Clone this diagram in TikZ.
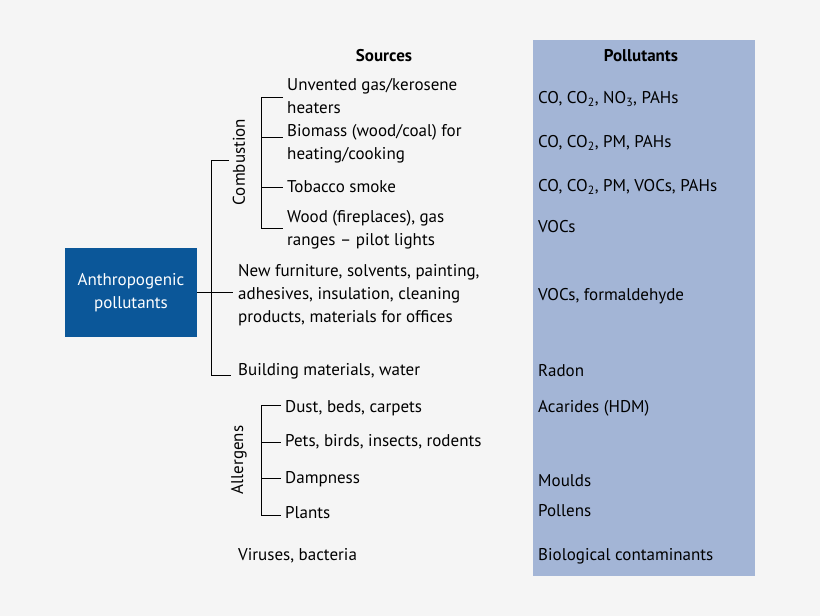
\documentclass[tikz,border=0pt]{standalone}
\usepackage{fontspec}
\setmainfont{PT Sans}
\begin{document}
\begin{tikzpicture}[x=1pt,y=-1pt,
  txt/.style={anchor=west,align=left,font=\fontsize{17}{23}\selectfont,inner sep=0pt},
  hd/.style={font=\fontsize{17}{20}\selectfont\bfseries,inner sep=0pt},
  ln/.style={draw=black,line width=1pt}]
\definecolor{bg}{HTML}{F5F5F5}
\definecolor{panel}{HTML}{A3B5D6}
\definecolor{boxc}{HTML}{0B5799}
\fill[bg] (0,0) rectangle (820,616);
\useasboundingbox (0,0) rectangle (820,616);
\fill[panel] (533,40) rectangle (755,576);
\node[hd] (hs) at (384,56) {Sources};
\node[hd] (hp) at (641,56) {Pollutants};
\node[fill=boxc,text=white,minimum width=132pt,minimum height=89pt,align=center,font=\fontsize{17}{23}\selectfont,inner sep=0pt] (anth) at (131,292.5) {Anthropogenic\\pollutants};
% main bracket
\coordinate (m1) at (211,160); \coordinate (m2) at (211,375);
\draw[ln] (229,160) -- (m1) -- (m2) -- (231,375);
\draw[ln] (anth.east) -- (233,292.5);
% combustion
\draw[ln] (283,97) -- (261,97) -- (261,228) -- (283,228);
\draw[ln] (261,137) -- (283,137);
\draw[ln] (261,187) -- (283,187);
\node[rotate=90,font=\fontsize{17}{20}\selectfont,inner sep=0pt] (comb) at (239,162) {Combustion};
% allergens
\draw[ln] (281,405) -- (261,405) -- (261,515) -- (281,515);
\draw[ln] (261,442) -- (281,442);
\draw[ln] (261,478) -- (281,478);
\node[rotate=90,font=\fontsize{17}{20}\selectfont,inner sep=0pt] (all) at (239,460) {Allergens};
% sources
\node[txt] (s1) at (287,96) {Unvented gas/kerosene\\heaters};
\node[txt] (s2) at (287,144) {Biomass (wood/coal) for\\heating/cooking};
\node[txt] (s3) at (287,187) {Tobacco smoke};
\node[txt] (s4) at (287,230) {Wood (fireplaces), gas\\ranges -- pilot lights};
\node[txt] (s5) at (238,295) {New furniture, solvents, painting,\\adhesives, insulation, cleaning\\products, materials for offices};
\node[txt] (s6) at (238,371) {Building materials, water};
\node[txt] (s7) at (285,408) {Dust, beds, carpets};
\node[txt] (s8) at (285,442) {Pets, birds, insects, rodents};
\node[txt] (s9) at (285,479) {Dampness};
\node[txt] (s10) at (285,513) {Plants};
\node[txt] (s11) at (238,556) {Viruses, bacteria};
% pollutants
\node[txt] (p1) at (538,99) {CO, CO\textsubscript{2}, NO\textsubscript{3}, PAHs};
\node[txt] (p2) at (538,143) {CO, CO\textsubscript{2}, PM, PAHs};
\node[txt] (p3) at (538,187) {CO, CO\textsubscript{2}, PM, VOCs, PAHs};
\node[txt] (p4) at (538,227) {VOCs};
\node[txt] (p5) at (538,296) {VOCs, formaldehyde};
\node[txt] (p6) at (538,371) {Radon};
\node[txt] (p7) at (538,408) {Acarides (HDM)};
\node[txt] (p8) at (538,481) {Moulds};
\node[txt] (p9) at (538,511) {Pollens};
\node[txt] (p10) at (538,556) {Biological contaminants};
\end{tikzpicture}
\end{document}
